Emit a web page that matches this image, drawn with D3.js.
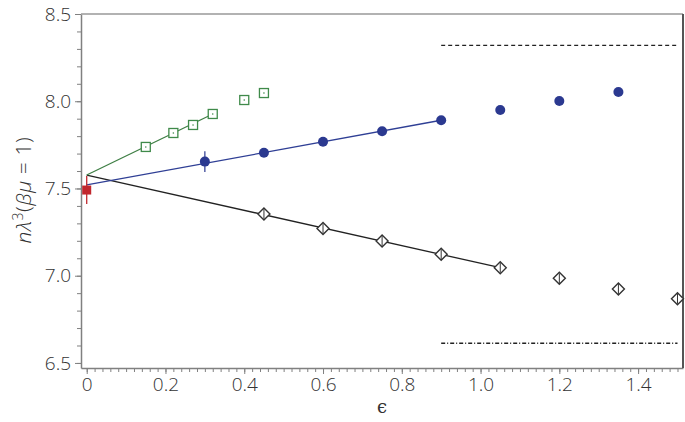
<!DOCTYPE html>
<html>
<head>
<meta charset="utf-8">
<script src="https://cdn.jsdelivr.net/npm/d3@7"></script>
<style>
  body { margin: 0; background: #fff; }
  svg { display: block; }
</style>
</head>
<body>
<figure style="margin:0"></figure>
<script>
// ---- data ----
const redEps = [0]
const redVal = [7.491]
const redErr = [0.08]

const greenEps = [0.15, 0.22, 0.27, 0.32, 0.40, 0.45]
const greenVal = [7.738, 7.818, 7.864, 7.927, 8.007, 8.047]

const blueEps = [0.30, 0.45, 0.60, 0.75, 0.90, 1.05, 1.20, 1.35]
const blueVal = [7.654, 7.705, 7.768, 7.828, 7.891, 7.950, 8.001, 8.053]
const blueErr = [0.06, 0, 0, 0, 0, 0, 0, 0]

const diamondEps = [0.45, 0.60, 0.75, 0.90, 1.05, 1.20, 1.35, 1.50]
const diamondVal = [7.354, 7.270, 7.199, 7.123, 7.046, 6.985, 6.924, 6.868]

// fitted lines: [eps, value] end points
const greenFit = [[0, 7.577], [0.32, 7.927]]
const blueFit = [[0, 7.520], [0.90, 7.891]]
const blackFit = [[0, 7.577], [1.05, 7.046]]

// horizontal reference levels
const upperLevel = 8.320
const lowerLevel = 6.613
const levelRange = [0.9, 1.5]

const xTicks = [0, 0.2, 0.4, 0.6, 0.8, 1.0, 1.2, 1.4]
const xTickLabels = ["0", "0.2", "0.4", "0.6", "0.8", "1.0", "1.2", "1.4"]
const yTicks = [6.5, 7.0, 7.5, 8.0, 8.5]
const yTickLabels = ["6.5", "7.0", "7.5", "8.0", "8.5"]

// ---- svg ----
const svgWidth = 685
const svgHeight = 422
const plot = { left: 81, right: 683, top: 14, bottom: 368 }

const svg = d3.select('figure')
  .append('svg')
  .attr('width', svgWidth)
  .attr('height', svgHeight)

const x = d3.scaleLinear()
  .domain([-0.0145, 1.514])
  .range([plot.left, plot.right])

const y = d3.scaleLinear()
  .domain([6.471, 8.5])
  .range([plot.bottom, plot.top])

const font = "'Open Sans', 'Noto Sans', sans-serif"
const axisColor = '#808080'

// ---- axes ----
const xMinor = d3.range(0, 1.501, 0.02)
const yMinor = d3.range(6.5, 8.501, 0.1)

svg.append('g')
  .attr('transform', `translate(0,${plot.bottom})`)
  .call(d3.axisBottom(x).tickValues(xMinor).tickSize(4).tickFormat(''))
  .call(g => g.select('.domain').remove())
  .call(g => g.selectAll('line').attr('stroke', axisColor))

svg.append('g')
  .attr('transform', `translate(${plot.left},0)`)
  .call(d3.axisLeft(y).tickValues(yMinor).tickSize(4).tickFormat(''))
  .call(g => g.select('.domain').remove())
  .call(g => g.selectAll('line').attr('stroke', axisColor))

const xAxis = svg.append('g')
  .attr('transform', `translate(0,${plot.bottom})`)
  .call(d3.axisBottom(x).tickValues(xTicks).tickSize(6).tickSizeOuter(0)
    .tickFormat((d, i) => xTickLabels[i]))
xAxis.select('.domain').attr('stroke', axisColor).attr('stroke-width', 1.5)
xAxis.selectAll('line').attr('stroke', axisColor)
xAxis.selectAll('text')
  .attr('y', 10)
  .style('font-family', font)
  .style('font-size', '19px')
  .style('font-weight', 300)
  .attr('fill', '#333')

const yAxis = svg.append('g')
  .attr('transform', `translate(${plot.left},0)`)
  .call(d3.axisLeft(y).tickValues(yTicks).tickSize(6).tickSizeOuter(0)
    .tickFormat((d, i) => yTickLabels[i]))
yAxis.select('.domain').attr('stroke', axisColor).attr('stroke-width', 1.5)
yAxis.selectAll('line').attr('stroke', axisColor)
yAxis.selectAll('text')
  .attr('x', -10)
  .style('font-family', font)
  .style('font-size', '19px')
  .style('font-weight', 300)
  .attr('fill', '#333')

// frame top & right
svg.append('line')
  .attr('x1', plot.left).attr('x2', plot.right)
  .attr('y1', plot.top).attr('y2', plot.top)
  .attr('stroke', '#999').attr('stroke-width', 1.5)
svg.append('line')
  .attr('x1', plot.right).attr('x2', plot.right)
  .attr('y1', plot.top).attr('y2', plot.bottom)
  .attr('stroke', '#555').attr('stroke-width', 2)

// ---- axis labels ----
svg.append('text')
  .attr('x', (plot.left + plot.right) / 2)
  .attr('y', 413)
  .attr('text-anchor', 'middle')
  .style('font-family', "'DejaVu Serif', serif")
  .style('font-size', '18px')
  .attr('fill', '#333')
  .text('ϵ')

const yLabel = svg.append('text')
  .attr('transform', 'translate(31,190) rotate(-90)')
  .attr('text-anchor', 'middle')
  .style('font-family', font)
  .style('font-size', '21px')
  .style('font-weight', 300)
  .style('letter-spacing', '0.6px')
  .attr('fill', '#333')
yLabel.append('tspan').style('font-style', 'italic').text('nλ')
yLabel.append('tspan').attr('dy', -8).style('font-size', '14px').text('3')
yLabel.append('tspan').attr('dy', 8).text('(')
yLabel.append('tspan').style('font-style', 'italic').text('βμ')
yLabel.append('tspan').text(' = 1)')

// ---- reference levels ----
svg.append('line')
  .attr('x1', x(levelRange[0])).attr('x2', x(levelRange[1]))
  .attr('y1', y(upperLevel)).attr('y2', y(upperLevel))
  .attr('stroke', '#222').attr('stroke-width', 1.4)
  .attr('stroke-dasharray', '4,3')

svg.append('line')
  .attr('x1', x(levelRange[0])).attr('x2', x(levelRange[1]))
  .attr('y1', y(lowerLevel)).attr('y2', y(lowerLevel))
  .attr('stroke', '#222').attr('stroke-width', 1.3)
  .attr('stroke-dasharray', '4,2,1,2')

// ---- fit lines ----
const line = d3.line().x(d => x(d[0])).y(d => y(d[1]))
svg.append('path').datum(blackFit).attr('d', line)
  .attr('fill', 'none').attr('stroke', '#222').attr('stroke-width', 1.3)
svg.append('path').datum(blueFit).attr('d', line)
  .attr('fill', 'none').attr('stroke', '#2f3f95').attr('stroke-width', 1.3)
svg.append('path').datum(greenFit).attr('d', line)
  .attr('fill', 'none').attr('stroke', '#3f7f45').attr('stroke-width', 1.3)

// ---- markers ----
const green = '#3f8a4a'
const blue = '#2b3990'
const red = '#c1272d'

// red square with error bar
const reds = redEps.map((e, i) => ({ e, v: redVal[i], err: redErr[i] }))
svg.append('g').selectAll('line').data(reds).join('line')
  .attr('x1', d => x(d.e)).attr('x2', d => x(d.e))
  .attr('y1', d => y(d.v + d.err)).attr('y2', d => y(d.v - d.err))
  .attr('stroke', red).attr('stroke-width', 1.3)
svg.append('g').selectAll('rect').data(reds).join('rect')
  .attr('x', d => x(d.e) - 4.5).attr('y', d => y(d.v) - 4.5)
  .attr('width', 9).attr('height', 9)
  .attr('fill', red)

// green open squares with centre dot
const greens = greenEps.map((e, i) => ({ e, v: greenVal[i] }))
const gs = svg.append('g').selectAll('g').data(greens).join('g')
  .attr('transform', d => `translate(${x(d.e)},${y(d.v)})`)
gs.append('rect')
  .attr('x', -4.5).attr('y', -4.5).attr('width', 9).attr('height', 9)
  .attr('fill', '#fff').attr('stroke', green).attr('stroke-width', 1.3)
gs.append('circle').attr('r', 0.8).attr('fill', green)

// blue circles with error bars
const blues = blueEps.map((e, i) => ({ e, v: blueVal[i], err: blueErr[i] }))
svg.append('g').selectAll('line').data(blues.filter(d => d.err > 0)).join('line')
  .attr('x1', d => x(d.e)).attr('x2', d => x(d.e))
  .attr('y1', d => y(d.v + d.err)).attr('y2', d => y(d.v - d.err))
  .attr('stroke', blue).attr('stroke-width', 1.2)
svg.append('g').selectAll('circle').data(blues).join('circle')
  .attr('cx', d => x(d.e)).attr('cy', d => y(d.v))
  .attr('r', 5).attr('fill', blue)

// open diamonds
const diamonds = diamondEps.map((e, i) => ({ e, v: diamondVal[i] }))
const ds = svg.append('g').selectAll('g').data(diamonds).join('g')
  .attr('transform', d => `translate(${x(d.e)},${y(d.v)})`)
ds.append('path')
  .attr('d', 'M0,-6L6,0L0,6L-6,0Z')
  .attr('fill', '#fff').attr('stroke', '#333').attr('stroke-width', 1.4)
ds.append('line')
  .attr('x1', 0).attr('x2', 0).attr('y1', -5).attr('y2', 5)
  .attr('stroke', '#333').attr('stroke-width', 1)
</script>
</body>
</html>
